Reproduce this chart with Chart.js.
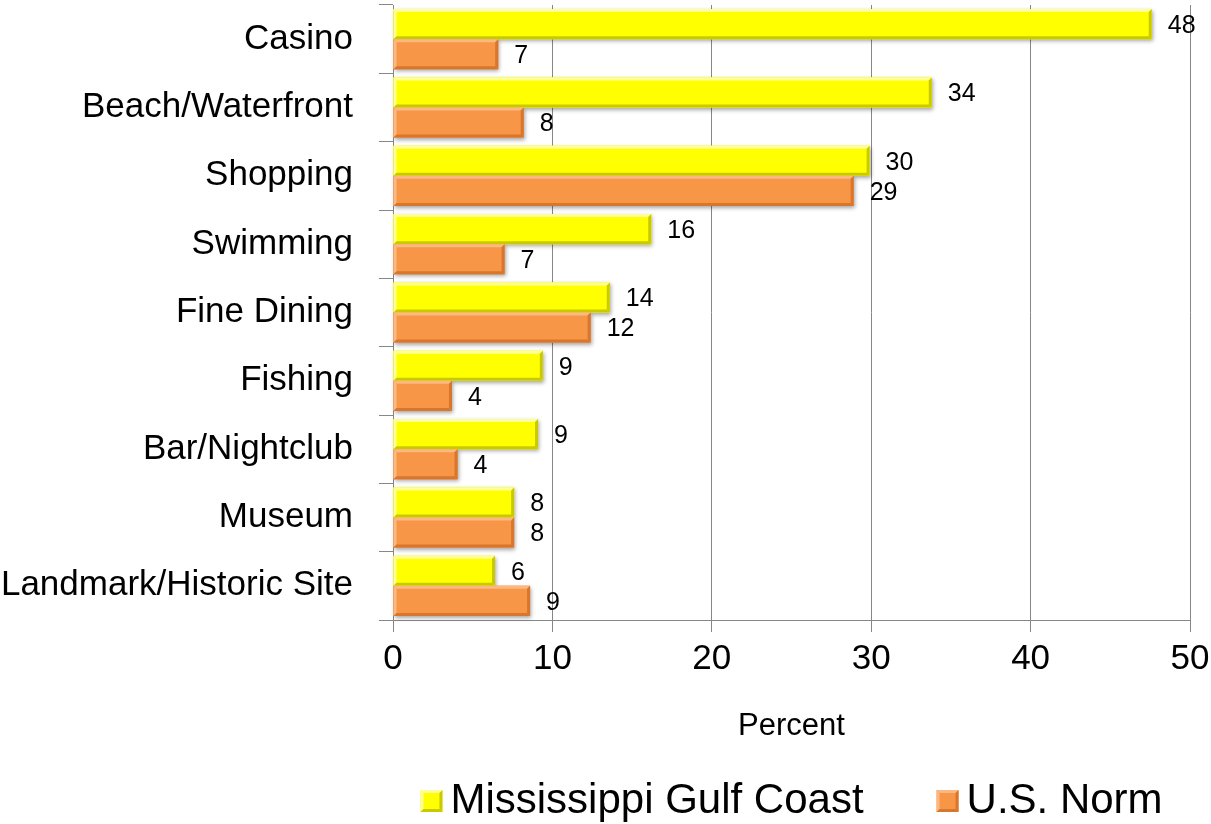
<!DOCTYPE html>
<html>
<head>
<meta charset="utf-8">
<script src="https://cdn.jsdelivr.net/npm/chart.js@4/dist/chart.umd.min.js"></script>
<style>
  html, body { margin: 0; padding: 0; background: #fff; }
</style>
</head>
<body>
<canvas id="chart" width="1211" height="824"></canvas>
<script>
// Data
const categories = ["Casino", "Beach/Waterfront", "Shopping", "Swimming", "Fine Dining",
  "Fishing", "Bar/Nightclub", "Museum", "Landmark/Historic Site"];
const gulfCoast = [47.6, 33.8, 29.9, 16.2, 13.6, 9.4, 9.1, 7.6, 6.4];
const usNorm = [6.6, 8.2, 28.9, 7.0, 12.4, 3.7, 4.05, 7.6, 8.6];
const seriesNames = ["Mississippi Gulf Coast", "U.S. Norm"];
const xTicks = [0, 10, 20, 30, 40, 50];

// Styles
const fills = ["#FFFF00", "#F79646"];
const lights = ["#FFFF9A", "#FBB883"];
const darks = ["#C9C900", "#D7762C"];
const gridColor = "#878787";

// Narrow font check (category + tick labels look like Arial Narrow)
function hasFont(name) {
  const c = document.createElement("canvas").getContext("2d");
  c.font = "40px monospace";
  const a = c.measureText("Landmark/Historic Site").width;
  c.font = `40px "${name}", monospace`;
  const b = c.measureText("Landmark/Historic Site").width;
  return a !== b;
}
const axisFont = hasFont("Liberation Sans Narrow")
  ? { family: '"Liberation Sans Narrow", "Liberation Sans"', size: 42 }
  : { family: '"Liberation Sans", Arial', size: 35 };

function bevel(ctx, x0, y0, x1, y1, light, dark, b) {
  const poly = (pts, color) => {
    ctx.fillStyle = color;
    ctx.beginPath();
    ctx.moveTo(pts[0][0], pts[0][1]);
    pts.slice(1).forEach(p => ctx.lineTo(p[0], p[1]));
    ctx.closePath();
    ctx.fill();
  };
  poly([[x0, y0], [x1, y0], [x1 - b, y0 + b], [x0 + b, y0 + b]], light);
  poly([[x0, y0], [x0 + b, y0 + b], [x0 + b, y1 - b], [x0, y1]], light);
  poly([[x0, y1], [x0 + b, y1 - b], [x1 - b, y1 - b], [x1, y1]], dark);
  poly([[x1, y0], [x1, y1], [x1 - b, y1 - b], [x1 - b, y0 + b]], dark);
}

// Bar shadows + bevel edges
const bevelBars = {
  id: "bevelBars",
  beforeDatasetsDraw(chart) {
    const ctx = chart.ctx;
    ctx.save();
    ctx.shadowColor = "rgba(0,0,0,0.35)";
    ctx.shadowBlur = 4;
    ctx.shadowOffsetX = 1;
    ctx.shadowOffsetY = 2;
    chart.data.datasets.forEach((ds, i) => {
      chart.getDatasetMeta(i).data.forEach(bar => {
        ctx.fillStyle = fills[i];
        ctx.fillRect(bar.base, bar.y - bar.height / 2, bar.x - bar.base, bar.height);
      });
    });
    ctx.restore();
  },
  afterDatasetsDraw(chart) {
    const ctx = chart.ctx;
    ctx.save();
    chart.data.datasets.forEach((ds, i) => {
      chart.getDatasetMeta(i).data.forEach(bar => {
        bevel(ctx, bar.base, bar.y - bar.height / 2, bar.x, bar.y + bar.height / 2, lights[i], darks[i], 3);
      });
    });
    ctx.restore();
  }
};

// Value labels right of bars
const valueLabels = {
  id: "valueLabels",
  afterDatasetsDraw(chart) {
    const ctx = chart.ctx;
    ctx.save();
    ctx.font = '25px "Liberation Sans", Arial';
    ctx.fillStyle = "#000";
    ctx.textAlign = "left";
    ctx.textBaseline = "middle";
    chart.data.datasets.forEach((ds, i) => {
      chart.getDatasetMeta(i).data.forEach((bar, j) => {
        ctx.fillText(String(Math.round(ds.data[j])), bar.x + 16, bar.y + 2);
      });
    });
    ctx.restore();
  }
};

// Legend under the axis title, centred on the plot area
const bottomLegend = {
  id: "bottomLegend",
  afterDraw(chart) {
    const ctx = chart.ctx;
    const area = chart.chartArea;
    ctx.save();
    ctx.font = '42px "Liberation Sans", Arial';
    const box = 22, gap = 8, spacing = 73, y = 801;
    const widths = seriesNames.map(n => ctx.measureText(n).width);
    const total = widths.reduce((s, w) => s + box + gap + w, 0) + spacing * (seriesNames.length - 1);
    let x = (area.left + area.right) / 2 - total / 2;
    seriesNames.forEach((name, i) => {
      ctx.fillStyle = fills[i];
      ctx.fillRect(x, y - box / 2, box, box);
      bevel(ctx, x, y - box / 2, x + box, y + box / 2, lights[i], darks[i], 3);
      ctx.fillStyle = "#000";
      ctx.textAlign = "left";
      ctx.textBaseline = "middle";
      ctx.fillText(name, x + box + gap, y);
      x += box + gap + widths[i] + spacing;
    });
    ctx.restore();
  }
};

new Chart(document.getElementById("chart"), {
  type: "bar",
  data: {
    labels: categories,
    datasets: [
      { label: seriesNames[0], data: gulfCoast, backgroundColor: fills[0] },
      { label: seriesNames[1], data: usNorm, backgroundColor: fills[1] }
    ]
  },
  options: {
    indexAxis: "y",
    responsive: false,
    animation: false,
    categoryPercentage: 0.88,
    barPercentage: 1.0,
    layout: { padding: { top: 5, right: 21, bottom: 79, left: 0 } },
    plugins: {
      legend: { display: false },
      tooltip: { enabled: false }
    },
    scales: {
      x: {
        min: 0,
        max: 50,
        afterBuildTicks: s => { s.ticks = xTicks.map(v => ({ value: v })); },
        grid: { color: gridColor, tickLength: 12 },
        border: { color: gridColor },
        ticks: { color: "#000", font: axisFont, padding: 6 },
        title: {
          display: true,
          text: "Percent",
          color: "#000",
          font: { family: '"Liberation Sans", Arial', size: 31 },
          padding: 0
        },
        afterFit: s => { s.height = 125; s.paddingLeft = 0; s.paddingRight = 0; }
      },
      y: {
        grid: { drawOnChartArea: false, drawTicks: true, tickLength: 14, color: gridColor, offset: true },
        border: { color: gridColor },
        ticks: { color: "#000", font: axisFont, padding: 26 },
        afterFit: s => { s.width = 393; s.paddingTop = 0; s.paddingBottom = 0; }
      }
    }
  },
  plugins: [bevelBars, valueLabels, bottomLegend]
});
</script>
</body>
</html>
